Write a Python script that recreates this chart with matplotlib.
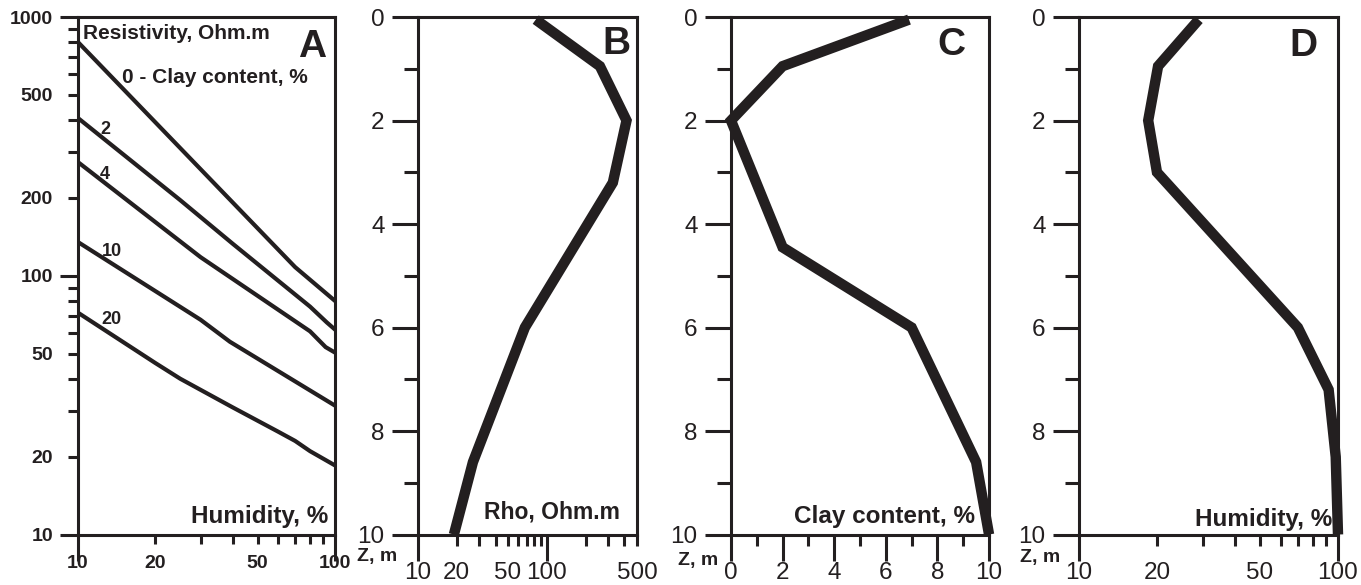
import matplotlib
matplotlib.use('Agg')
import matplotlib.pyplot as plt
from matplotlib.ticker import FixedLocator, FuncFormatter

plt.rcParams['font.family'] = ['Liberation Sans', 'DejaVu Sans']

INK = '#231f20'

# Panel A: resistivity vs humidity for several clay contents
clay_levels = ['0', '2', '4', '10', '20']
hum_c0 = [10, 40, 70, 100]
rho_c0 = [800, 192, 108, 80]
hum_c2 = [10, 25, 40, 80, 93, 100]
rho_c2 = [407, 196, 133, 76, 66, 62]
hum_c4 = [10, 30, 80, 92, 100]
rho_c4 = [275, 118, 61, 53, 50.5]
hum_c10 = [10, 30, 39, 100]
rho_c10 = [135, 67.6, 55.6, 31.5]
hum_c20 = [10, 20, 25, 40, 60, 70, 80, 100]
rho_c20 = [72, 46, 40, 31, 25, 23, 21, 18.5]

# Panels B-D: depth profiles
depth_b = [0.05, 0.95, 2.0, 3.2, 6.0, 8.6, 10.0]
rho_b = [82, 258, 415, 325, 67.5, 26.7, 19.0]
depth_c = [0.05, 0.95, 2.0, 4.45, 6.0, 8.6, 10.0]
clay_c = [6.9, 2.0, 0.0, 2.0, 7.0, 9.5, 10.0]
depth_d = [0.05, 0.95, 2.0, 3.0, 6.0, 7.2, 8.5, 10.0]
hum_d = [29, 20.2, 18.5, 20, 70, 92, 98, 100]

fig = plt.figure(figsize=(13.61, 5.85), dpi=100)
bot, hgt = 0.0863, 0.8846


def frame(ax):
    for s in ax.spines.values():
        s.set_linewidth(2.2)
        s.set_color(INK)


def label_some(keep):
    return FuncFormatter(lambda v, p: ('%g' % v) if round(v) in keep else '')


# ---------- A ----------
axA = fig.add_axes([0.0573, bot, 0.1888, hgt])
frame(axA)
axA.set_xscale('log')
axA.set_yscale('log')
axA.set_xlim(10, 100)
axA.set_ylim(10, 1000)
axA.xaxis.set_major_locator(FixedLocator([10, 100]))
axA.xaxis.set_minor_locator(FixedLocator([20, 30, 40, 50, 60, 70, 80, 90]))
axA.xaxis.set_major_formatter(FuncFormatter(lambda v, p: '%g' % v))
axA.xaxis.set_minor_formatter(label_some({20, 50}))
axA.yaxis.set_major_locator(FixedLocator([10, 100, 1000]))
axA.yaxis.set_minor_locator(FixedLocator([20, 30, 40, 50, 60, 70, 80, 90,
                                          200, 300, 400, 500, 600, 700, 800, 900]))
axA.yaxis.set_major_formatter(FuncFormatter(lambda v, p: '%g' % v))
axA.yaxis.set_minor_formatter(label_some({20, 50, 200, 500}))
axA.tick_params(axis='x', which='major', length=19, width=2.2, pad=-4.6, labelsize=14, color=INK)
axA.tick_params(axis='x', which='minor', length=6.5, width=2.2, pad=8, labelsize=14, color=INK)
axA.tick_params(axis='y', which='major', length=13, width=2.2, pad=5, labelsize=14, color=INK)
axA.tick_params(axis='y', which='minor', length=7, width=2.2, pad=11, labelsize=14, color=INK)
plt.setp(axA.get_xticklabels(which='both') + axA.get_yticklabels(which='both'),
         fontweight='bold', color=INK)

for hx, ry in [(hum_c0, rho_c0), (hum_c2, rho_c2), (hum_c4, rho_c4),
               (hum_c10, rho_c10), (hum_c20, rho_c20)]:
    axA.plot(hx, ry, color=INK, lw=3.0, solid_joinstyle='miter')

axA.text(0.02, 0.969, 'Resistivity, Ohm.m', transform=axA.transAxes, ha='left', va='center',
         fontsize=15, fontweight='bold', color=INK)
axA.text(0.911, 0.943, 'A', transform=axA.transAxes, ha='center', va='center',
         fontsize=28, fontweight='bold', color=INK)
axA.text(0.171, 0.883, clay_levels[0] + ' - Clay content, %', transform=axA.transAxes,
         ha='left', va='center', fontsize=15, fontweight='bold', color=INK)
for txt, xx, yy in [(clay_levels[1], 0.105, 0.782), (clay_levels[2], 0.105, 0.695),
                    (clay_levels[3], 0.132, 0.546), (clay_levels[4], 0.132, 0.415)]:
    axA.text(xx, yy, txt, transform=axA.transAxes, ha='center', va='center',
             fontsize=13, fontweight='bold', color=INK)
axA.text(0.973, 0.035, 'Humidity, %', transform=axA.transAxes, ha='right', va='center',
         fontsize=17.5, fontweight='bold', color=INK)


def depth_axis(ax):
    ax.set_ylim(10, 0)
    ax.yaxis.set_major_locator(FixedLocator([0, 2, 4, 6, 8, 10]))
    ax.yaxis.set_minor_locator(FixedLocator([1, 3, 5, 7, 9]))
    ax.tick_params(axis='y', which='major', length=19, width=2.2, pad=5, labelsize=17.5, color=INK)
    ax.tick_params(axis='y', which='minor', length=10, width=2.2, color=INK)
    ax.tick_params(axis='x', which='major', length=19, width=2.2, pad=1, labelsize=17.5, color=INK)
    ax.tick_params(axis='x', which='minor', length=8, width=2.2, pad=12, labelsize=17.5, color=INK)


def profile(ax, x, y):
    ax.plot(x, y, color=INK, lw=7.5, solid_joinstyle='miter', solid_capstyle='butt', clip_on=False)


# ---------- B ----------
axB = fig.add_axes([0.3071, bot, 0.1609, hgt])
frame(axB)
axB.set_xscale('log')
axB.set_xlim(10, 500)
depth_axis(axB)
axB.xaxis.set_major_locator(FixedLocator([10, 100]))
axB.xaxis.set_minor_locator(FixedLocator([20, 30, 40, 50, 60, 70, 80, 90, 200, 300, 400, 500]))
axB.xaxis.set_major_formatter(FuncFormatter(lambda v, p: '%g' % v))
axB.xaxis.set_minor_formatter(label_some({20, 50, 500}))
profile(axB, rho_b, depth_b)
axB.text(0.906, 0.948, 'B', transform=axB.transAxes, ha='center', va='center',
         fontsize=28, fontweight='bold', color=INK)
axB.text(0.922, 0.043, 'Rho, Ohm.m', transform=axB.transAxes, ha='right', va='center',
         fontsize=16.5, fontweight='bold', color=INK)

# ---------- C ----------
axC = fig.add_axes([0.5371, bot, 0.1896, hgt])
frame(axC)
axC.set_xlim(0, 10)
depth_axis(axC)
axC.xaxis.set_major_locator(FixedLocator([0, 2, 4, 6, 8, 10]))
axC.xaxis.set_minor_locator(FixedLocator([1, 3, 5, 7, 9]))
profile(axC, clay_c, depth_c)
axC.text(0.853, 0.946, 'C', transform=axC.transAxes, ha='center', va='center',
         fontsize=28, fontweight='bold', color=INK)
axC.text(0.946, 0.035, 'Clay content, %', transform=axC.transAxes, ha='right', va='center',
         fontsize=17.5, fontweight='bold', color=INK)

# ---------- D ----------
axD = fig.add_axes([0.7928, bot, 0.1903, hgt])
frame(axD)
axD.set_xscale('log')
axD.set_xlim(10, 100)
depth_axis(axD)
axD.xaxis.set_major_locator(FixedLocator([10, 100]))
axD.xaxis.set_minor_locator(FixedLocator([20, 30, 40, 50, 60, 70, 80, 90]))
axD.xaxis.set_major_formatter(FuncFormatter(lambda v, p: '%g' % v))
axD.xaxis.set_minor_formatter(label_some({20, 50}))
profile(axD, hum_d, depth_d)
axD.text(0.867, 0.944, 'D', transform=axD.transAxes, ha='center', va='center',
         fontsize=28, fontweight='bold', color=INK)
axD.text(0.977, 0.029, 'Humidity, %', transform=axD.transAxes, ha='right', va='center',
         fontsize=17.5, fontweight='bold', color=INK)

for ax, dx, dy in [(axB, -15, -16), (axC, -9.5, -19), (axD, -13.7, -16.5)]:
    plt.setp(ax.get_xticklabels(which='both') + ax.get_yticklabels(), color=INK)
    ax.annotate('Z, m', xy=(0, 0), xycoords='axes fraction', xytext=(dx, dy),
                textcoords='offset points', ha='right', va='center',
                fontsize=14, fontweight='bold', color=INK)

fig.savefig('out.png', dpi=100)
